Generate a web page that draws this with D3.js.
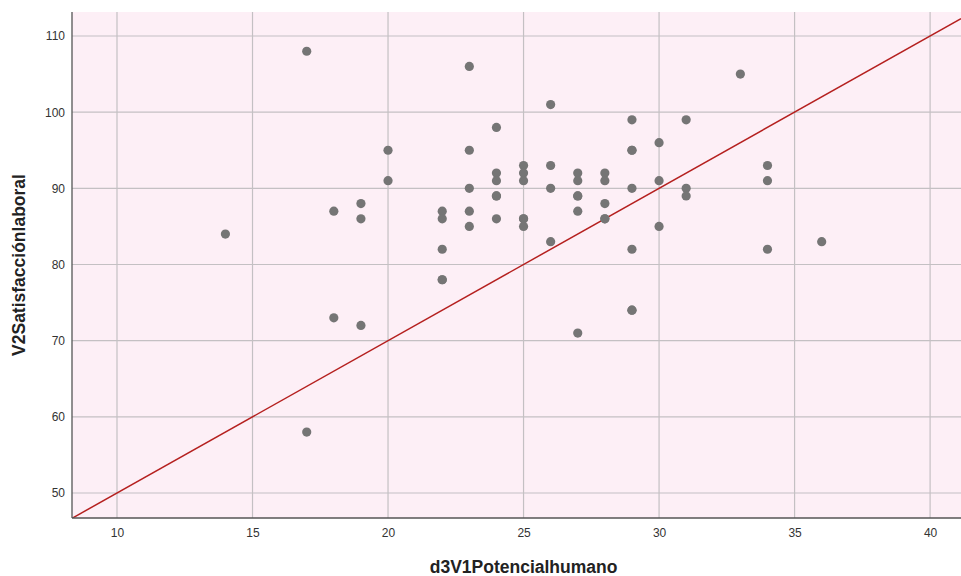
<!DOCTYPE html>
<html>
<head>
<meta charset="utf-8">
<script src="https://cdn.jsdelivr.net/npm/d3@7"></script>
<style>
  body { margin: 0; background: #fff; }
  text { font-family: Arial, "Liberation Sans", sans-serif; }
</style>
</head>
<body>
<svg id="chart"></svg>
<script>
// d3V1Potencialhumano (x) vs V2Satisfacciónlaboral (y)
const potencialHumano = [14, 17, 17, 18, 18, 19, 19, 19, 20, 20,
  22, 22, 22, 22, 22, 23, 23, 23, 23, 23,
  24, 24, 24, 24, 24, 24, 25, 25, 25, 25, 25, 25,
  26, 26, 26, 26, 27, 27, 27, 27, 27, 27,
  28, 28, 28, 28, 28, 29, 29, 29, 29, 29, 29, 29,
  30, 30, 30, 31, 31, 31, 33, 34, 34, 34, 36];
const satisfaccionLaboral = [84, 108, 58, 87, 73, 88, 86, 72, 95, 91,
  87, 86, 82, 78, 78, 106, 95, 90, 87, 85,
  98, 92, 91, 89, 89, 86, 93, 92, 91, 86, 86, 85,
  101, 93, 90, 83, 92, 91, 89, 89, 87, 71,
  92, 91, 88, 86, 86, 99, 95, 95, 90, 82, 74, 74,
  96, 91, 85, 99, 90, 89, 105, 93, 91, 82, 83];

const xTicks = [10, 15, 20, 25, 30, 35, 40];
const yTicks = [50, 60, 70, 80, 90, 100, 110];
// reference line y = 30 + 2x
const refLine = { intercept: 30, slope: 2 };

const width = 961;
const height = 576;
const margin = { top: 12, right: 0, bottom: 58, left: 72 };
const innerW = width - margin.left - margin.right;
const innerH = height - margin.top - margin.bottom;

const svg = d3.select('#chart')
  .attr('width', width)
  .attr('height', height);

const xScale = d3.scaleLinear().domain([8.34, 41.14]).range([0, innerW]);
const yScale = d3.scaleLinear().domain([46.72, 113.15]).range([innerH, 0]);

const chart = svg.append('g')
  .attr('transform', `translate(${margin.left},${margin.top})`);

// plot background
chart.append('rect')
  .attr('width', innerW)
  .attr('height', innerH)
  .attr('fill', '#fdeff6');

// gridlines
chart.append('g')
  .selectAll('line')
  .data(xTicks)
  .join('line')
  .attr('x1', (d) => xScale(d))
  .attr('x2', (d) => xScale(d))
  .attr('y1', 0)
  .attr('y2', innerH)
  .attr('stroke', '#c4c0c3')
  .attr('stroke-width', 1.2);

chart.append('g')
  .selectAll('line')
  .data(yTicks)
  .join('line')
  .attr('x1', 0)
  .attr('x2', innerW)
  .attr('y1', (d) => yScale(d))
  .attr('y2', (d) => yScale(d))
  .attr('stroke', '#c4c0c3')
  .attr('stroke-width', 1.2);

// axes
const xAxis = d3.axisBottom(xScale).tickValues(xTicks).tickSize(0).tickPadding(10);
const yAxis = d3.axisLeft(yScale).tickValues(yTicks).tickSize(0).tickPadding(7);

const xAxisG = chart.append('g')
  .attr('transform', `translate(0,${innerH})`)
  .call(xAxis);
const yAxisG = chart.append('g').call(yAxis);

[xAxisG, yAxisG].forEach((g) => {
  g.select('.domain').remove();
  g.selectAll('text')
    .attr('font-size', 12)
    .attr('fill', '#333');
});

// reference line, clipped to the plot
chart.append('clipPath').attr('id', 'clip')
  .append('rect').attr('width', innerW).attr('height', innerH);

const x0 = xScale.domain()[0];
const x1 = xScale.domain()[1];
chart.append('line')
  .attr('clip-path', 'url(#clip)')
  .attr('x1', xScale(x0))
  .attr('y1', yScale(refLine.intercept + refLine.slope * x0))
  .attr('x2', xScale(x1))
  .attr('y2', yScale(refLine.intercept + refLine.slope * x1))
  .attr('stroke', '#b5201f')
  .attr('stroke-width', 1.5);

// points
const points = potencialHumano.map((x, i) => [x, satisfaccionLaboral[i]]);
chart.append('g')
  .selectAll('circle')
  .data(points)
  .join('circle')
  .attr('cx', (d) => xScale(d[0]))
  .attr('cy', (d) => yScale(d[1]))
  .attr('r', 4.6)
  .attr('fill', '#757575');

// axis lines
chart.append('line')
  .attr('x1', 0).attr('x2', 0)
  .attr('y1', 0).attr('y2', innerH)
  .attr('stroke', '#555').attr('stroke-width', 1.3);
chart.append('line')
  .attr('x1', 0).attr('x2', innerW)
  .attr('y1', innerH).attr('y2', innerH)
  .attr('stroke', '#555').attr('stroke-width', 1.3);

// axis titles
svg.append('text')
  .attr('x', margin.left + xScale(25))
  .attr('y', 573)
  .attr('text-anchor', 'middle')
  .attr('font-size', 17.5)
  .attr('font-weight', 'bold')
  .attr('fill', '#222')
  .text('d3V1Potencialhumano');

svg.append('text')
  .attr('transform', `translate(25,${margin.top + innerH / 2}) rotate(-90)`)
  .attr('text-anchor', 'middle')
  .attr('font-size', 17.5)
  .attr('font-weight', 'bold')
  .attr('fill', '#222')
  .text('V2Satisfacciónlaboral');
</script>
</body>
</html>
